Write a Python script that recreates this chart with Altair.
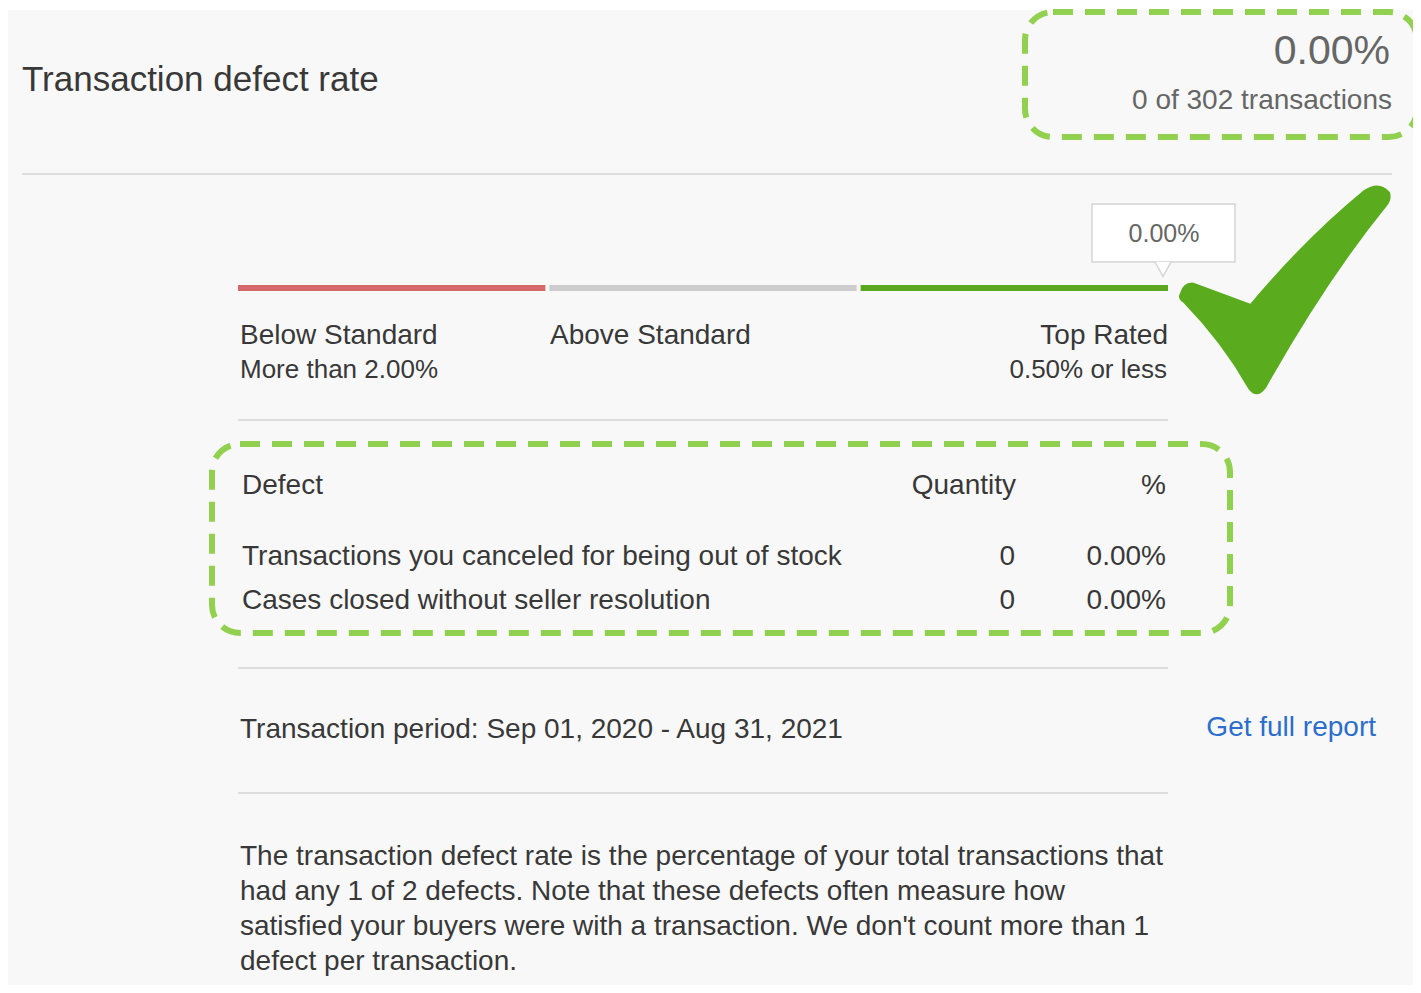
import altair as alt
import pandas as pd

# ---------------- data ----------------
title = "Transaction defect rate"
defect_rate = [0.00]
defect_count = [0]
total_transactions = [302]
tiers = ["Below Standard", "Above Standard", "Top Rated"]
tier_notes = ["More than 2.00%", "", "0.50% or less"]
table_headers = ["Defect", "Quantity", "%"]
defect_types = [
    "Transactions you canceled for being out of stock",
    "Cases closed without seller resolution",
]
defect_qty = [0, 0]
defect_pct = [0.00, 0.00]
period_label = "Transaction period: Sep 01, 2020 - Aug 31, 2021"
link_label = "Get full report"
description = [
    "The transaction defect rate is the percentage of your total transactions that",
    "had any 1 of 2 defects. Note that these defects often measure how",
    "satisfied your buyers were with a transaction. We don't count more than 1",
    "defect per transaction.",
]

# ---------------- layout ----------------
FONT = "Liberation Sans"
W, H = 1405, 977
X0, Y0 = 8, 8
xs = alt.Scale(domain=[X0, X0 + W], nice=False, zero=False)
ys = alt.Scale(domain=[Y0 + H, Y0], nice=False, zero=False)
DARK = "#383838"
GREY = "#666666"
LINK = "#2c6ecb"
DASH_GREEN = "#92d050"
CHECK_GREEN = "#5aab1e"


def X(f="x"):
    return alt.X(f + ":Q", scale=xs, axis=None)


def Y(f="y"):
    return alt.Y(f + ":Q", scale=ys, axis=None)


def txt(rows, align):
    df = pd.DataFrame(rows, columns=["x", "y", "t", "fs", "col"])
    return alt.Chart(df).mark_text(align=align, baseline="alphabetic", font=FONT).encode(
        x=X(), y=Y(), text="t:N",
        size=alt.Size("fs:Q", scale=None, legend=None),
        color=alt.Color("col:N", scale=None, legend=None),
    )


def pct(v):
    return f"{v:.2f}%"


# panel background
panel = alt.Chart(pd.DataFrame({"x": [2], "x2": [1421], "y": [10], "y2": [993]})).mark_rect(
    fill="#f8f8f8").encode(x=X(), x2="x2:Q", y=Y(), y2="y2:Q")

# separators
rules = alt.Chart(pd.DataFrame({"x": [22, 238, 238, 238], "x2": [1392, 1168, 1168, 1168],
                                "y": [174, 420, 668, 793]})).mark_rule(
    color="#dddddd", strokeWidth=2).encode(x=X(), x2="x2:Q", y=Y())

# tier bar
seg_w = (1168 - 238 + 4) / 3
tier_df = pd.DataFrame({
    "tier": tiers,
    "x": [238 + i * seg_w for i in range(3)],
    "x2": [238 + (i + 1) * seg_w - 4 for i in range(3)],
    "y": [285] * 3, "y2": [291] * 3,
    "col": ["#d4686c", "#cccccc", "#5ba71f"],
})
tier_bar = alt.Chart(tier_df).mark_rect().encode(
    x=X(), x2="x2:Q", y=Y(), y2="y2:Q", color=alt.Color("col:N", scale=None, legend=None))

# tooltip box
tip_box = alt.Chart(pd.DataFrame({"x": [1092], "x2": [1235], "y": [204], "y2": [262]})).mark_rect(
    fill="white", stroke="#d5d5d5", strokeWidth=1.5).encode(x=X(), x2="x2:Q", y=Y(), y2="y2:Q")
tip_ptr = alt.Chart(pd.DataFrame({"x": [1163], "y": [270]})).mark_point(
    shape="M -1 -1 L 0 0.8 L 1 -1", filled=False, fill="white", fillOpacity=1,
    stroke="#d5d5d5", strokeWidth=1.5, size=256, opacity=1).encode(x=X(), y=Y())

# checkmark
check_path = ("M -1 0.03 Q -0.97 -0.08 -0.87 -0.07 L -0.33 0.13 Q 0.2 -0.5 0.75 -0.95 "
              "Q 0.9 -1.05 1 -0.93 Q 1.02 -0.86 0.97 -0.8 Q 0.4 -0.1 -0.18 0.93 "
              "Q -0.27 1.05 -0.35 0.94 Q -0.6 0.5 -0.97 0.12 Q -1.03 0.08 -1 0.03 Z")
check = alt.Chart(pd.DataFrame({"x": [1285], "y": [290]})).mark_point(
    shape=check_path, filled=True, color=CHECK_GREEN, size=44100, opacity=1,
    strokeWidth=0).encode(x=X(), y=Y())

# dashed highlight boxes
boxes = alt.Chart(pd.DataFrame({"x": [1025, 212], "x2": [1417, 1230],
                                "y": [12, 444], "y2": [137, 633]})).mark_rect(
    fill="#f8f8f8", fillOpacity=0, stroke=DASH_GREEN, strokeWidth=6,
    strokeDash=[20, 12], cornerRadius=28).encode(x=X(), x2="x2:Q", y=Y(), y2="y2:Q")

# texts
left_rows = [
    (22, 91, title, 35, DARK),
    (240, 344, tiers[0], 28, DARK),
    (240, 378, tier_notes[0], 26, DARK),
    (550, 344, tiers[1], 28, DARK),
    (242, 494, table_headers[0], 28, DARK),
    (242, 565, defect_types[0], 28, DARK),
    (242, 609, defect_types[1], 28, DARK),
    (240, 738, period_label, 28, DARK),
]
for i, line in enumerate(description):
    left_rows.append((240, 865 + 35 * i, line, 28, DARK))

right_rows = [
    (1390, 64, pct(defect_rate[0]), 41, GREY),
    (1392, 109, f"{defect_count[0]} of {total_transactions[0]} transactions", 28, GREY),
    (1168, 344, tiers[2], 28, DARK),
    (1167, 378, tier_notes[2], 26, DARK),
    (1016, 494, table_headers[1], 28, DARK),
    (1166, 494, table_headers[2], 28, DARK),
    (1376, 736, link_label, 28, LINK),
]
for i, (q, p) in enumerate(zip(defect_qty, defect_pct)):
    right_rows.append((1015, 565 + 44 * i, str(q), 28, DARK))
    right_rows.append((1166, 565 + 44 * i, pct(p), 28, DARK))

center_rows = [(1164, 242, pct(defect_rate[0]), 25, GREY)]

chart = alt.layer(
    panel, rules, tier_bar, tip_box, tip_ptr, check, boxes,
    txt(left_rows, "left"), txt(right_rows, "right"), txt(center_rows, "center"),
).properties(
    width=W, height=H, padding=0, background="white",
    autosize=alt.AutoSizeParams(type="none"),
).configure_view(strokeWidth=0)

chart.save("out.html", embed_options={"renderer": "svg", "actions": False})
